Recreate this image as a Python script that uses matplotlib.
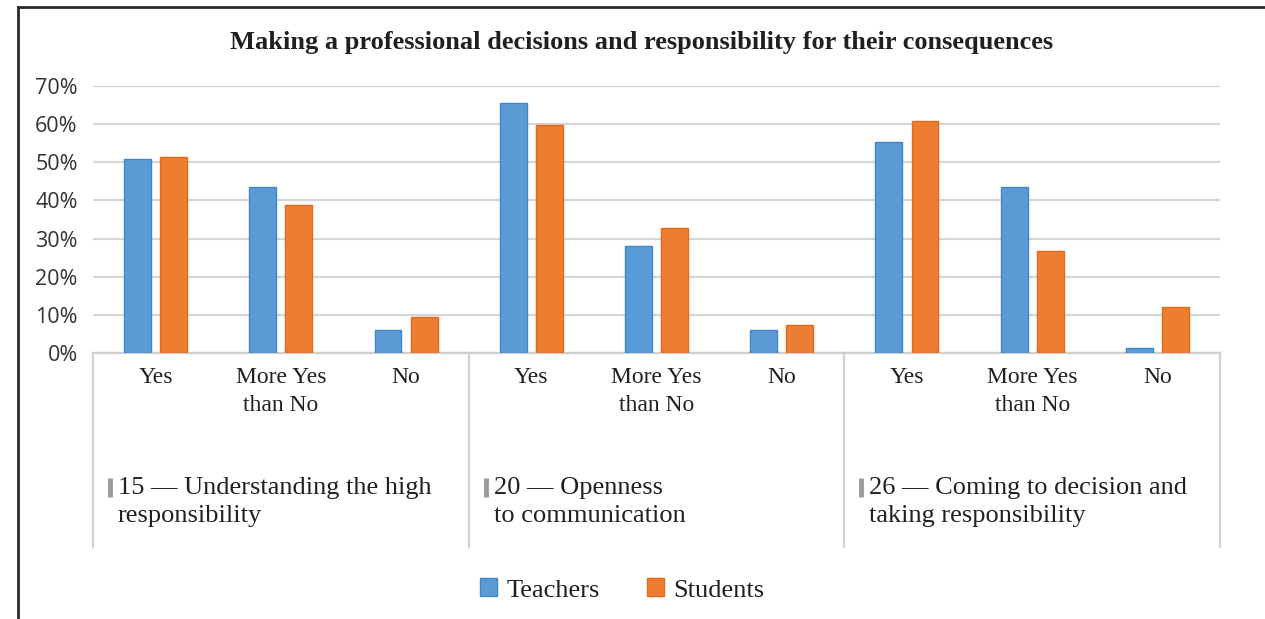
import matplotlib.pyplot as plt
import numpy as np
from matplotlib.lines import Line2D
from matplotlib.patches import Patch

# survey answers, per question group
answers = ['Yes', 'More Yes\nthan No', 'No']
groups = ['15 — Understanding the high\nresponsibility',
          '20 — Openness\nto communication',
          '26 — Coming to decision and\ntaking responsibility']
teachers = [50.8, 43.4, 5.9, 65.5, 28.0, 5.9, 55.4, 43.4, 1.2]
students = [51.5, 38.7, 9.4, 59.7, 32.7, 7.3, 60.8, 26.7, 12.0]
yticks = [0, 10, 20, 30, 40, 50, 60, 70]

blue, blue_edge = '#5b9bd5', '#3f86cb'
orange, orange_edge = '#ed7d31', '#e8681a'
ink = '#231f20'
serif = ['Liberation Serif', 'DejaVu Serif']
sans = ['Open Sans', 'DejaVu Sans']

fig = plt.figure(figsize=(12.65, 6.19), dpi=100)
ax = fig.add_axes([93/1265, 266/619, 1127/1265, 267/619])

x = np.arange(len(teachers))
w = 0.215
off = 0.144
ax.bar(x - off, teachers, w, color=blue, edgecolor=blue_edge, linewidth=1, zorder=3)
ax.bar(x + off, students, w, color=orange, edgecolor=orange_edge, linewidth=1, zorder=3)

ax.set_xlim(-0.5, len(teachers) - 0.5)
ax.set_ylim(0, 70)
ax.set_yticks(yticks)
ax.set_yticklabels([f'{t}%' for t in yticks], family=sans, fontsize=15.5, color='#333333')
ax.tick_params(axis='y', length=0, pad=11)
ax.grid(axis='y', color='#d6d6d6', linewidth=1.6, zorder=0)
for s in ['top', 'right', 'left']:
    ax.spines[s].set_visible(False)
ax.spines['bottom'].set_color('#cfcfcf')
ax.spines['bottom'].set_linewidth(1.6)

ax.set_xticks(x)
ax.set_xticklabels(answers * len(groups), family=serif, fontsize=17,
                   color=ink, linespacing=1.45)
ax.tick_params(axis='x', length=0, pad=10)

# boxes under the axis separating the three question groups
box_bottom = -(547 - 353) / 267
for b in range(len(groups) + 1):
    ax.add_line(Line2D([b * 3 - 0.5] * 2, [0, box_bottom], transform=ax.get_xaxis_transform(),
                       color='#d2d2d2', linewidth=1.6, clip_on=False))

slot = 1127 / 9
for g, name in enumerate(groups):
    x0 = g * 3 - 0.5
    ax.add_line(Line2D([x0 + 17/slot] * 2, [-(478 - 353) / 267, -(497 - 353) / 267],
                       transform=ax.get_xaxis_transform(), color='#9a9a9a',
                       linewidth=3.5, clip_on=False, solid_capstyle='butt'))
    ax.text(x0 + 25/slot, -(477 - 353) / 267, name, transform=ax.get_xaxis_transform(),
            ha='left', va='top', family=serif, fontsize=19, color=ink, linespacing=1.38)

fig.text(0.507, 1 - 42/619, 'Making a professional decisions and responsibility for their consequences',
         ha='center', va='center', family=serif, fontsize=19, fontweight='bold', color=ink)

handles = [Patch(facecolor=blue, edgecolor=blue_edge), Patch(facecolor=orange, edgecolor=orange_edge)]
leg = fig.legend(handles, ['Teachers', 'Students'], loc='center', bbox_to_anchor=(0.492, 29/619),
                 ncol=2, frameon=False, handlelength=0.65, handleheight=0.65, handletextpad=0.35,
                 columnspacing=1.8, prop={'family': serif, 'size': 19})
for t in leg.get_texts():
    t.set_color(ink)

# frame around the chart
fig.add_artist(Line2D([18/1265, 1], [1 - 7/619] * 2, color='#2b2b2b', linewidth=2))
fig.add_artist(Line2D([18/1265] * 2, [0, 1 - 7/619], color='#2b2b2b', linewidth=2))

fig.savefig('out.png', dpi=100)
